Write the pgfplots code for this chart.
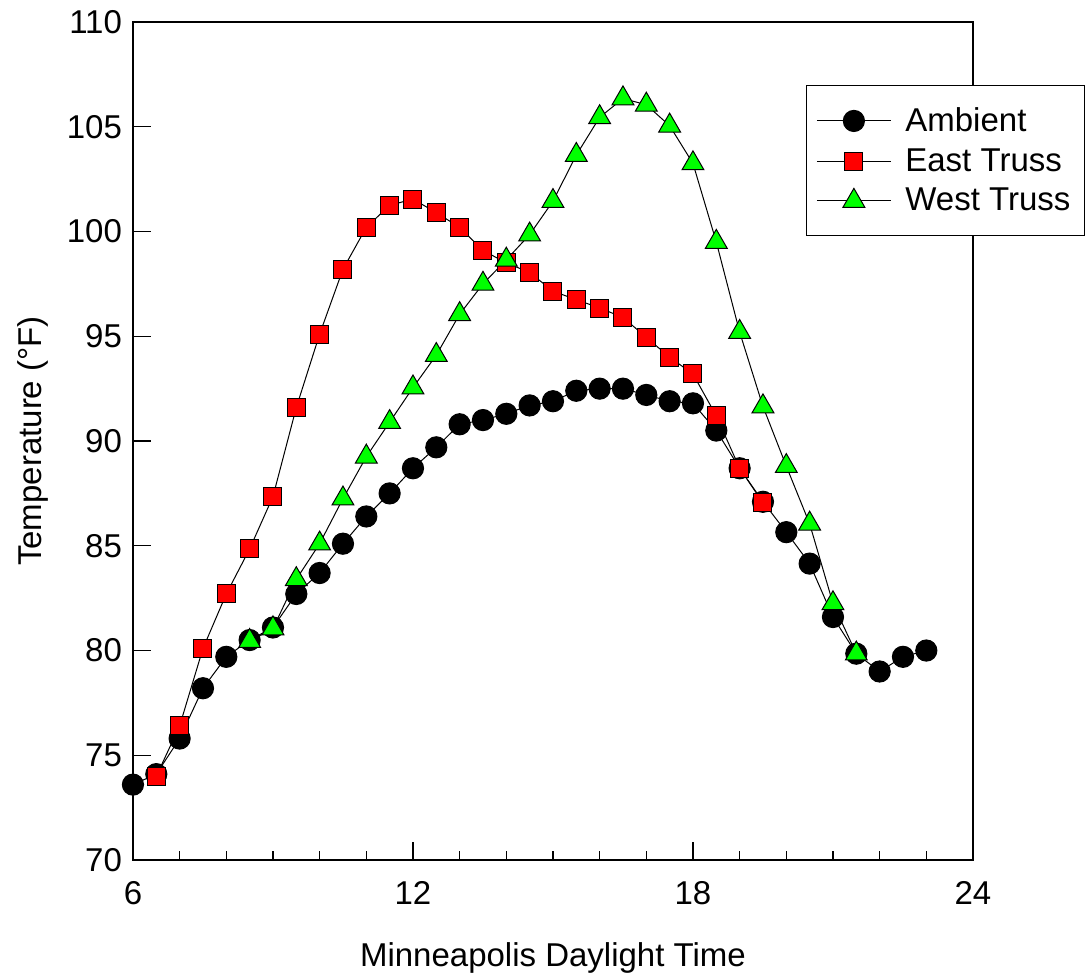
\documentclass[border=0pt]{standalone}
\usepackage{fontspec}
\setmainfont{Liberation Sans}
\usepackage{pgfplots}
\pgfplotsset{compat=1.18}
\definecolor{sqred}{RGB}{255,0,0}
\definecolor{trgreen}{RGB}{0,255,0}
\begin{document}
\begin{tikzpicture}
\begin{axis}[
  scale only axis,
  width=420pt, height=419pt,
  xmin=6, xmax=24, ymin=70, ymax=110,
  xtick={6,12,18,24},
  minor xtick={7,8,9,10,11,13,14,15,16,17,19,20,21,22,23},
  ytick={70,75,...,110},
  tick align=inside,
  xtick pos=bottom, ytick pos=left,
  major tick length=9pt, minor tick length=4.5pt,
  axis line style={line width=0.6pt},
  tick style={line width=0.6pt, black},
  /pgf/number format/assume math mode=true,
  tick label style={font=\fontsize{16.5}{19}\selectfont},
  label style={font=\fontsize{16.5}{19}\selectfont},
  xticklabel style={yshift=-7pt},
  yticklabel style={xshift=-2pt},
  xlabel={Minneapolis Daylight Time},
  ylabel={Temperature (°F)},
  xlabel style={yshift=-12pt},
  ylabel style={yshift=2.5pt},
  clip=false,
  legend style={at={(0.801,0.925)}, anchor=north west, draw=black, line width=0.6pt,
    font=\fontsize{16.5}{19}\selectfont, inner xsep=5pt, inner ysep=9pt,
    row sep=3pt, column sep=5pt, cells={anchor=west}},
  legend image code/.code={%
    \draw[mark repeat=2,mark phase=2] plot coordinates {(0cm,0cm) (0.65cm,0cm) (1.3cm,0cm)};},
]
\addplot[black, line width=0.5pt, mark=*, mark size=5.3pt, mark options={fill=black, draw=black}] coordinates {
(6.0,73.6) (6.5,74.1) (7.0,75.8) (7.5,78.2) (8.0,79.7) (8.5,80.5) (9.0,81.1) (9.5,82.7)
(10.0,83.7) (10.5,85.1) (11.0,86.4) (11.5,87.5) (12.0,88.7) (12.5,89.7) (13.0,90.8)
(13.5,91.0) (14.0,91.3) (14.5,91.7) (15.0,91.9) (15.5,92.4) (16.0,92.5) (16.5,92.5)
(17.0,92.2) (17.5,91.9) (18.0,91.8) (18.5,90.5) (19.0,88.7) (19.5,87.1) (20.0,85.65)
(20.5,84.15) (21.0,81.6) (21.5,79.85) (22.0,79.0) (22.5,79.7) (23.0,80.0)
};
\addlegendentry{Ambient}
\addplot[black, line width=0.5pt, mark=square*, mark size=4.5pt, mark options={fill=sqred, draw=black, line width=0.5pt}] coordinates {
(6.5,74.0) (7.0,76.4) (7.5,80.1) (8.0,82.7) (8.5,84.85) (9.0,87.35) (9.5,91.6)
(10.0,95.1) (10.5,98.2) (11.0,100.2) (11.5,101.25) (12.0,101.55) (12.5,100.9) (13.0,100.2)
(13.5,99.1) (14.0,98.5) (14.5,98.05) (15.0,97.15) (15.5,96.75) (16.0,96.35) (16.5,95.9)
(17.0,94.95) (17.5,94.0) (18.0,93.2) (18.5,91.2) (19.0,88.7) (19.5,87.05)
};
\addlegendentry{East Truss}
\addplot[black, line width=0.5pt, mark=triangle*, mark size=6.3pt, mark options={fill=trgreen, draw=black, line width=0.5pt}] coordinates {
(8.5,80.45) (9.0,81.05) (9.5,83.4) (10.0,85.1) (10.5,87.25) (11.0,89.25) (11.5,90.9)
(12.0,92.55) (12.5,94.1) (13.0,96.05) (13.5,97.5) (14.0,98.65) (14.5,99.85) (15.0,101.45)
(15.5,103.65) (16.0,105.45) (16.5,106.35) (17.0,106.05) (17.5,105.05) (18.0,103.25)
(18.5,99.5) (19.0,95.2) (19.5,91.65) (20.0,88.8) (20.5,86.05) (21.0,82.25) (21.5,79.85)
};
\addlegendentry{West Truss}
\path (rel axis cs:-0.1583,-0.1337) rectangle (rel axis cs:1.1333,1.0263);
\end{axis}
\end{tikzpicture}
\end{document}
